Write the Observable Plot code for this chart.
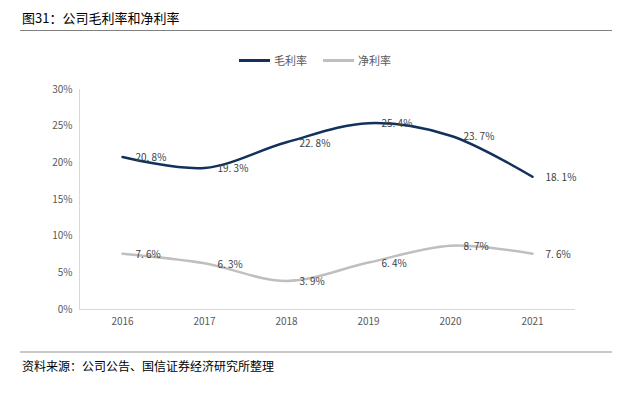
<!DOCTYPE html>
<html><head><meta charset="utf-8">
<script src="https://cdn.jsdelivr.net/npm/d3@7"></script>
<script src="https://cdn.jsdelivr.net/npm/@observablehq/plot@0.6"></script>
<style>
body{margin:0;background:#fff;font-family:"Noto Sans CJK SC","Noto Sans",sans-serif;}
#wrap{position:relative;width:630px;height:395px;}
#title{position:absolute;left:22px;top:8px;font-size:13px;color:#000;}
#tline{position:absolute;left:20px;top:30px;width:592px;border-top:1px solid #808080;}
#legend{position:absolute;left:0;top:52px;width:630px;display:flex;justify-content:center;font-size:11px;color:#595959;}
.lg{display:flex;align-items:center;margin:0 8px;}
.sw{display:inline-block;width:31px;height:0;margin-right:4px;}
#chart{position:absolute;left:0;top:40px;}
#bline{position:absolute;left:20px;top:351px;width:592px;border-top:2px solid #c8c8c8;}
#source{position:absolute;left:22px;top:357px;font-size:12px;color:#000;}
</style></head>
<body><div id="wrap">
<div id="title">图31：公司毛利率和净利率</div>
<div id="tline"></div>
<div id="legend"></div>
<div id="chart"></div>
<div id="bline"></div>
<div id="source">资料来源：公司公告、国信证券经济研究所整理</div>
</div>
<script>
const years = ["2016","2017","2018","2019","2020","2021"];
const grossMargin = [20.8,19.3,22.8,25.4,23.7,18.1];
const netMargin = [7.6,6.3,3.9,6.4,8.7,7.6];
const yTicks = [0,5,10,15,20,25,30];
const seriesNames = ["毛利率","净利率"];
const seriesColors = ["#12315c","#bfbfbf"];

const rows = [];
years.forEach((y,i)=>{
  rows.push({year:y, value:grossMargin[i], series:seriesNames[0]});
  rows.push({year:y, value:netMargin[i], series:seriesNames[1]});
});

const leg = document.getElementById("legend");
seriesNames.forEach((n,i)=>{
  const d = document.createElement("span"); d.className="lg";
  const s = document.createElement("span"); s.className="sw";
  s.style.borderTop = "3px solid " + seriesColors[i];
  d.appendChild(s); d.appendChild(document.createTextNode(n));
  leg.appendChild(d);
});

const chart = Plot.plot({
  width: 630, height: 310,
  marginLeft: 79, marginRight: 55, marginTop: 49, marginBottom: 41,
  style: {fontFamily: "'Noto Sans CJK SC','Noto Sans',sans-serif", fontSize: "10px", color: "#595959", background: "transparent"},
  x: {type: "point", domain: years, padding: 0.5, label: null},
  y: {domain: [0,30], ticks: yTicks, label: null},
  color: {domain: seriesNames, range: seriesColors},
  marks: [
    Plot.ruleX([0], {x: () => years[0], stroke: "#d9d9d9", strokeWidth: 0}),
    Plot.axisY({ticks: yTicks, tickFormat: d => d + "%", tickSize: 0, tickPadding: 7, fill: "#595959", fontSize: 10}),
    Plot.axisX({tickSize: 0, tickPadding: 8, fill: "#595959", fontSize: 10}),
    Plot.ruleY([0], {stroke: "#d9d9d9", strokeWidth: 1}),
    Plot.lineY(rows, {x: "year", y: "value", stroke: "series", z: "series", strokeWidth: 2.5, curve: "catmull-rom"}),
    Plot.text(rows, {x: "year", y: "value", text: d => d.value.toFixed(1).replace(".", ". ") + "%", textAnchor: "start", dx: 13, dy: 1, fill: "#404040", fontSize: 10})
  ]
});
// y axis line at left frame
const svg = d3.select(chart);
svg.append("line").attr("x1",79.5).attr("x2",79.5).attr("y1",49).attr("y2",269).attr("stroke","#d9d9d9");
document.getElementById("chart").appendChild(chart);
</script>
</body></html>
